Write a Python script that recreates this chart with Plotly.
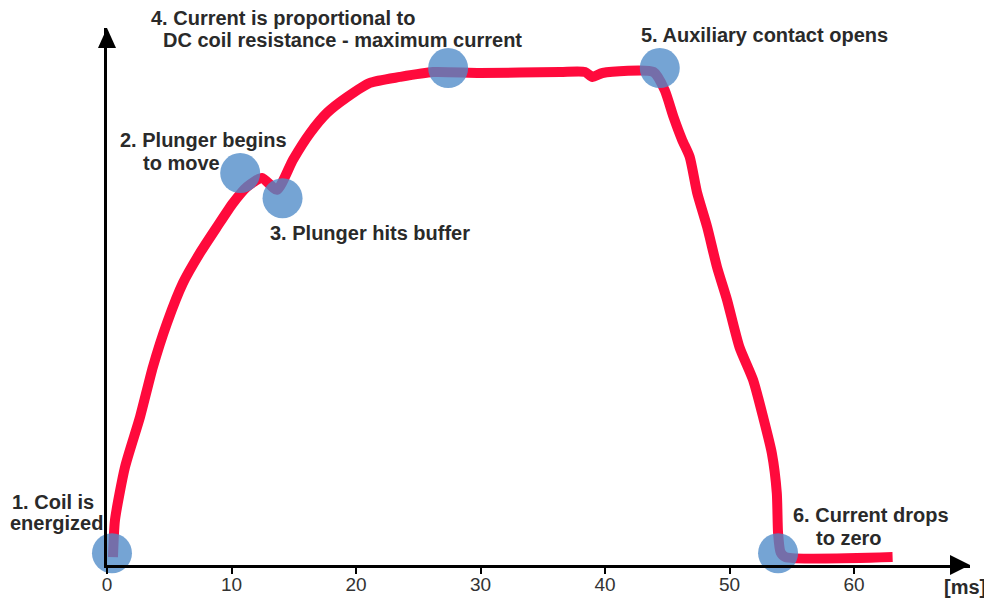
import plotly.graph_objects as go

# ---- data (time in ms, current in % of maximum) ----
time_ms = [0.48, 0.64, 1.45, 2.65, 3.69, 4.82, 6.10, 7.47, 8.84, 10.12, 11.24, 12.45,
           13.65, 14.94, 16.31, 17.67, 19.28, 21.12, 23.53, 26.18, 29.96, 36.4, 38.4,
           39.0, 39.8, 43.9, 44.8, 45.5, 46.2, 46.8, 47.4, 48.2, 49.0, 49.8, 50.8,
           51.9, 52.7, 53.4, 53.8, 53.9, 54.1, 54.5, 63.1]
current = [1.6, 9.1, 19.9, 30.0, 40.2, 49.1, 57.2, 63.3, 68.6, 73.4, 76.7, 78.5,
           76.1, 82.2, 87.6, 91.7, 94.9, 97.8, 99.0, 100.0, 99.8, 100.0, 100.0,
           99.0, 99.8, 100.0, 96.3, 90.9, 86.2, 82.8, 75.5, 68.6, 60.4, 53.8, 44.2,
           37.5, 30.0, 22.7, 14.6, 6.5, 2.6, 1.6, 1.6]

event_time = [0.4, 10.7, 14.1, 27.4, 44.4, 53.9]
event_current = [2.4, 79.5, 74.4, 100.8, 100.8, 2.4]

tick_values = [0, 10, 20, 30, 40, 50, 60]
tick_labels = ["0", "10", "20", "30", "40", "50", "60"]

# ---- layout geometry (pixels, reference image coordinates) ----
OFF = 8                      # page body margin
W, H = 992, 599
AX_X0, AX_Y0 = 107, 565      # axis origin in the reference
X_TIP, Y_TIP = 970, 28       # arrow tips
PW, PH = X_TIP - AX_X0, AX_Y0 - Y_TIP
X_MAX = PW / 12.45
Y_MAX = PH / 4.93
ML, MT = AX_X0 - OFF, Y_TIP - OFF
MR, MB = W - X_TIP, H - AX_Y0
FW, FH = W - OFF, H - OFF

def px(xp):
    return (xp - AX_X0) / PW

def py(yp):
    return (AX_Y0 - yp) / PH

FONT = "Liberation Sans, Arial, sans-serif"
TXT = "#2a2a2a"

fig = go.Figure()
fig.add_trace(go.Scatter(
    x=time_ms, y=current, mode="lines",
    line=dict(color="#ff0a3c", width=10, shape="spline", smoothing=0.6),
    hoverinfo="skip", cliponaxis=False,
))
fig.add_trace(go.Scatter(
    x=event_time, y=event_current, mode="markers",
    marker=dict(size=40, color="rgba(78,138,200,0.78)", line=dict(width=0)),
    hoverinfo="skip", cliponaxis=False,
))

labels = [
    ("1. Coil is", 10, 502),
    ("energized", 8, 523),
    ("2. Plunger begins", 118, 140),
    ("to move", 141, 163),
    ("3. Plunger hits buffer", 268, 233),
    ("4. Current is proportional to", 149, 18),
    ("DC coil resistance - maximum current", 161, 40),
    ("5. Auxiliary contact opens", 639, 35),
    ("6. Current drops", 791, 515),
    ("to zero", 814, 538),
    ("[ms]", 942, 587),
]
annotations = []
for text, x0, yc in labels:
    annotations.append(dict(
        text="<b>%s</b>" % text, xref="paper", yref="paper",
        x=px(x0), y=py(yc), xanchor="left", yanchor="middle",
        showarrow=False, font=dict(family=FONT, size=20, color=TXT),
    ))

# arrow heads on the axes
ax_len, ax_half = 20, 10
shapes = [
    dict(type="path", xref="paper", yref="paper",
         path="M 1 0 L %f %f L %f %f Z" % (1 - ax_len / PW, ax_half / PH, 1 - ax_len / PW, -ax_half / PH),
         fillcolor="black", line=dict(width=0)),
    dict(type="path", xref="paper", yref="paper",
         path="M 0 1 L %f %f L %f %f Z" % (-9 / PW, 1 - ax_len / PH, 9 / PW, 1 - ax_len / PH),
         fillcolor="black", line=dict(width=0)),
]

fig.update_layout(
    width=FW, height=FH, autosize=False,
    margin=dict(l=ML, r=MR, t=MT, b=MB, pad=0),
    paper_bgcolor="white", plot_bgcolor="white",
    showlegend=False,
    annotations=annotations, shapes=shapes,
    xaxis=dict(range=[0, X_MAX], showgrid=False, zeroline=False, automargin=False,
               showline=True, linecolor="black", linewidth=3,
               tickmode="array", tickvals=tick_values, ticktext=tick_labels,
               ticks="outside", ticklen=6, tickwidth=2, tickcolor="black",
               tickfont=dict(family=FONT, size=19, color="#333333"),
               ticklabelstandoff=-6, fixedrange=True),
    yaxis=dict(range=[0, Y_MAX], showgrid=False, zeroline=False, automargin=False,
               showline=True, linecolor="black", linewidth=3,
               showticklabels=False, ticks="", fixedrange=True),
)

fig.write_html("out.html")
